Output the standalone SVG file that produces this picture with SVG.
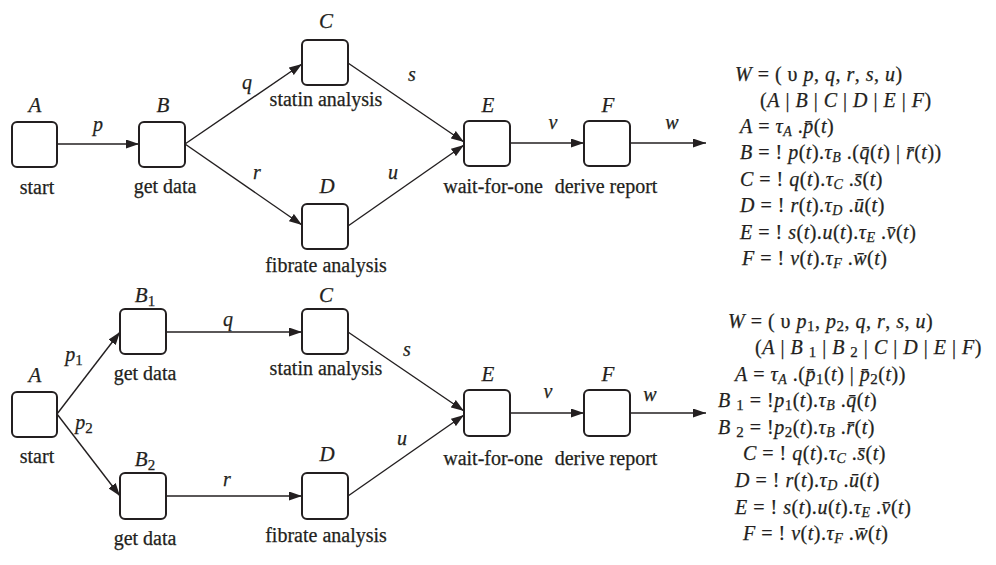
<svg xmlns="http://www.w3.org/2000/svg" width="996" height="565" viewBox="0 0 996 565" font-family="'Liberation Serif', 'DejaVu Serif', serif">
<style>
.box{fill:#fff;stroke:#231f20;stroke-width:2}
.edge{stroke:#231f20;stroke-width:1.4;fill:none;marker-end:url(#ah)}
text{font-family:'Liberation Serif','DejaVu Serif',serif;fill:#231f20;stroke:#231f20;stroke-width:0.25}
.lbl{font-size:20px;text-anchor:middle}
.nm{font-size:21px;font-style:italic;text-anchor:middle}
.el{font-size:20px;font-style:italic;text-anchor:middle}
.f{font-size:20px;letter-spacing:0.5px}
.i{font-style:italic}
.s{font-size:14px;font-style:italic}
.n{font-size:15px}
</style>
<defs>
<marker id="ah" markerUnits="userSpaceOnUse" markerWidth="13" markerHeight="9" refX="13" refY="4.5" orient="auto">
<path d="M0,0 L13,4.5 L0,9 z" fill="#231f20"/>
</marker>
</defs>

<!-- Top workflow -->
<g id="connectors-top">
<line class="edge" x1="57" y1="144" x2="139" y2="144"/>
<line class="edge" x1="185" y1="144" x2="302" y2="64"/>
<line class="edge" x1="185" y1="144" x2="302" y2="225"/>
<line class="edge" x1="348" y1="63" x2="464" y2="142"/>
<line class="edge" x1="348" y1="226" x2="464" y2="145"/>
<line class="edge" x1="510" y1="143" x2="584" y2="143"/>
<line class="edge" x1="630" y1="143" x2="706" y2="143"/>
<text class="el" x="98" y="131">p</text>
<text class="el" x="247" y="89">q</text>
<text class="el" x="257" y="179">r</text>
<text class="el" x="412" y="81">s</text>
<text class="el" x="393" y="179">u</text>
<text class="el" x="553" y="129">v</text>
<text class="el" x="672" y="129">w</text>
</g>
<g id="t-A"><rect class="box" x="12" y="122" width="45" height="45" rx="5"/><text class="nm" x="35" y="112">A</text><text class="lbl" x="37" y="194">start</text></g>
<g id="t-B"><rect class="box" x="139" y="122" width="46" height="45" rx="5"/><text class="nm" x="163" y="112">B</text><text class="lbl" x="165" y="193">get data</text></g>
<g id="t-C"><rect class="box" x="302" y="40" width="46" height="45" rx="5"/><text class="nm" x="326" y="28">C</text><text class="lbl" x="326" y="106">statin analysis</text></g>
<g id="t-D"><rect class="box" x="302" y="204" width="46" height="45" rx="5"/><text class="nm" x="327" y="193">D</text><text class="lbl" x="326" y="272">fibrate analysis</text></g>
<g id="t-E"><rect class="box" x="464" y="121" width="46" height="45" rx="5"/><text class="nm" x="488" y="112">E</text><text class="lbl" x="493" y="193">wait-for-one</text></g>
<g id="t-F"><rect class="box" x="584" y="121" width="46" height="45" rx="5"/><text class="nm" x="608" y="112">F</text><text class="lbl" x="606" y="193">derive report</text></g>

<!-- Bottom workflow -->
<g id="connectors-bottom">
<line class="edge" x1="57" y1="414" x2="120" y2="332"/>
<line class="edge" x1="57" y1="414" x2="120" y2="496"/>
<line class="edge" x1="166" y1="332" x2="302" y2="332"/>
<line class="edge" x1="166" y1="496" x2="302" y2="496"/>
<line class="edge" x1="348" y1="332" x2="464" y2="411"/>
<line class="edge" x1="348" y1="496" x2="464" y2="415"/>
<line class="edge" x1="510" y1="413" x2="584" y2="413"/>
<line class="edge" x1="630" y1="413" x2="706" y2="413"/>
<text class="el" x="74" y="361">p<tspan class="n" font-style="normal" dy="4">1</tspan></text>
<text class="el" x="84" y="429">p<tspan class="n" font-style="normal" dy="4">2</tspan></text>
<text class="el" x="228" y="326">q</text>
<text class="el" x="227" y="486">r</text>
<text class="el" x="407" y="356">s</text>
<text class="el" x="402" y="445">u</text>
<text class="el" x="548" y="398">v</text>
<text class="el" x="650" y="401">w</text>
</g>
<g id="b-A"><rect class="box" x="12" y="392" width="45" height="45" rx="5"/><text class="nm" x="35" y="382">A</text><text class="lbl" x="37" y="463">start</text></g>
<g id="b-B1"><rect class="box" x="120" y="309" width="46" height="45" rx="5"/><text class="nm" x="145" y="302">B<tspan class="n" font-style="normal" dy="4">1</tspan></text><text class="lbl" x="145" y="380">get data</text></g>
<g id="b-B2"><rect class="box" x="120" y="473" width="46" height="46" rx="5"/><text class="nm" x="145" y="466">B<tspan class="n" font-style="normal" dy="4">2</tspan></text><text class="lbl" x="145" y="545">get data</text></g>
<g id="b-C"><rect class="box" x="302" y="309" width="46" height="45" rx="5"/><text class="nm" x="326" y="302">C</text><text class="lbl" x="326" y="375">statin analysis</text></g>
<g id="b-D"><rect class="box" x="302" y="473" width="46" height="46" rx="5"/><text class="nm" x="327" y="461">D</text><text class="lbl" x="326" y="542">fibrate analysis</text></g>
<g id="b-E"><rect class="box" x="464" y="390" width="46" height="46" rx="5"/><text class="nm" x="488" y="381">E</text><text class="lbl" x="493" y="465">wait-for-one</text></g>
<g id="b-F"><rect class="box" x="584" y="390" width="46" height="46" rx="5"/><text class="nm" x="608" y="381">F</text><text class="lbl" x="606" y="465">derive report</text></g>

<!-- Top formulas -->
<g id="formulas-top" class="f">
<text class="f" x="735" y="81"><tspan class="i">W</tspan> = ( υ <tspan class="i">p</tspan>, <tspan class="i">q</tspan>, <tspan class="i">r</tspan>, <tspan class="i">s</tspan>, <tspan class="i">u</tspan>)</text>
<text class="f" x="760" y="107">(<tspan class="i">A</tspan> | <tspan class="i">B</tspan> | <tspan class="i">C</tspan> | <tspan class="i">D</tspan> | <tspan class="i">E</tspan> | <tspan class="i">F</tspan>)</text>
<text class="f" x="740" y="133"><tspan class="i">A</tspan> =  <tspan class="i">τ</tspan><tspan class="s" dy="3">A</tspan><tspan dy="-3"> .</tspan><tspan class="i">p̄</tspan>(<tspan class="i">t</tspan>)</text>
<text class="f" x="740" y="159"><tspan class="i">B</tspan> = ! <tspan class="i">p</tspan>(<tspan class="i">t</tspan>).<tspan class="i">τ</tspan><tspan class="s" dy="3">B</tspan><tspan dy="-3"> .(</tspan><tspan class="i">q̄</tspan>(<tspan class="i">t</tspan>) | <tspan class="i">r̄</tspan>(<tspan class="i">t</tspan>))</text>
<text class="f" x="740" y="186"><tspan class="i">C</tspan> = ! <tspan class="i">q</tspan>(<tspan class="i">t</tspan>).<tspan class="i">τ</tspan><tspan class="s" dy="3">C</tspan><tspan dy="-3"> .</tspan><tspan class="i">s̄</tspan>(<tspan class="i">t</tspan>)</text>
<text class="f" x="740" y="212"><tspan class="i">D</tspan> = ! <tspan class="i">r</tspan>(<tspan class="i">t</tspan>).<tspan class="i">τ</tspan><tspan class="s" dy="3">D</tspan><tspan dy="-3"> .</tspan><tspan class="i">ū</tspan>(<tspan class="i">t</tspan>)</text>
<text class="f" x="740" y="239"><tspan class="i">E</tspan> = ! <tspan class="i">s</tspan>(<tspan class="i">t</tspan>).<tspan class="i">u</tspan>(<tspan class="i">t</tspan>).<tspan class="i">τ</tspan><tspan class="s" dy="3">E</tspan><tspan dy="-3"> .</tspan><tspan class="i">v̄</tspan>(<tspan class="i">t</tspan>)</text>
<text class="f" x="742" y="265"><tspan class="i">F</tspan> = ! <tspan class="i">v</tspan>(<tspan class="i">t</tspan>).<tspan class="i">τ</tspan><tspan class="s" dy="3">F</tspan><tspan dy="-3"> .</tspan><tspan class="i">w̄</tspan>(<tspan class="i">t</tspan>)</text>
</g>

<!-- Bottom formulas -->
<g id="formulas-bottom" class="f">
<text class="f" x="728" y="328"><tspan class="i">W</tspan> = ( υ <tspan class="i">p</tspan><tspan class="n" dy="3">1</tspan><tspan dy="-3">, </tspan><tspan class="i">p</tspan><tspan class="n" dy="3">2</tspan><tspan dy="-3">, </tspan><tspan class="i">q</tspan>, <tspan class="i">r</tspan>, <tspan class="i">s</tspan>, <tspan class="i">u</tspan>)</text>
<text class="f" x="755" y="354">(<tspan class="i">A</tspan> | <tspan class="i">B</tspan> <tspan class="n" dy="3">1</tspan><tspan dy="-3"> | </tspan><tspan class="i">B</tspan> <tspan class="n" dy="3">2</tspan><tspan dy="-3"> | </tspan><tspan class="i">C</tspan> | <tspan class="i">D</tspan> | <tspan class="i">E</tspan> | <tspan class="i">F</tspan>)</text>
<text class="f" x="735" y="381"><tspan class="i">A</tspan> =  <tspan class="i">τ</tspan><tspan class="s" dy="3">A</tspan><tspan dy="-3"> .(</tspan><tspan class="i">p̄</tspan><tspan class="n" dy="3">1</tspan><tspan dy="-3">(</tspan><tspan class="i">t</tspan>) | <tspan class="i">p̄</tspan><tspan class="n" dy="3">2</tspan><tspan dy="-3">(</tspan><tspan class="i">t</tspan>))</text>
<text class="f" x="718" y="407"><tspan class="i">B</tspan> <tspan class="n" dy="3">1</tspan><tspan dy="-3"> = !</tspan><tspan class="i">p</tspan><tspan class="n" dy="3">1</tspan><tspan dy="-3">(</tspan><tspan class="i">t</tspan>).<tspan class="i">τ</tspan><tspan class="s" dy="3">B</tspan><tspan dy="-3"> .</tspan><tspan class="i">q̄</tspan>(<tspan class="i">t</tspan>)</text>
<text class="f" x="718" y="434"><tspan class="i">B</tspan> <tspan class="n" dy="3">2</tspan><tspan dy="-3"> = !</tspan><tspan class="i">p</tspan><tspan class="n" dy="3">2</tspan><tspan dy="-3">(</tspan><tspan class="i">t</tspan>).<tspan class="i">τ</tspan><tspan class="s" dy="3">B</tspan><tspan dy="-3"> .</tspan><tspan class="i">r̄</tspan>(<tspan class="i">t</tspan>)</text>
<text class="f" x="743" y="460"><tspan class="i">C</tspan> = ! <tspan class="i">q</tspan>(<tspan class="i">t</tspan>).<tspan class="i">τ</tspan><tspan class="s" dy="3">C</tspan><tspan dy="-3"> .</tspan><tspan class="i">s̄</tspan>(<tspan class="i">t</tspan>)</text>
<text class="f" x="735" y="487"><tspan class="i">D</tspan> = ! <tspan class="i">r</tspan>(<tspan class="i">t</tspan>).<tspan class="i">τ</tspan><tspan class="s" dy="3">D</tspan><tspan dy="-3"> .</tspan><tspan class="i">ū</tspan>(<tspan class="i">t</tspan>)</text>
<text class="f" x="735" y="514"><tspan class="i">E</tspan> = ! <tspan class="i">s</tspan>(<tspan class="i">t</tspan>).<tspan class="i">u</tspan>(<tspan class="i">t</tspan>).<tspan class="i">τ</tspan><tspan class="s" dy="3">E</tspan><tspan dy="-3"> .</tspan><tspan class="i">v̄</tspan>(<tspan class="i">t</tspan>)</text>
<text class="f" x="743" y="540"><tspan class="i">F</tspan> = ! <tspan class="i">v</tspan>(<tspan class="i">t</tspan>).<tspan class="i">τ</tspan><tspan class="s" dy="3">F</tspan><tspan dy="-3"> .</tspan><tspan class="i">w̄</tspan>(<tspan class="i">t</tspan>)</text>
</g>
</svg>
